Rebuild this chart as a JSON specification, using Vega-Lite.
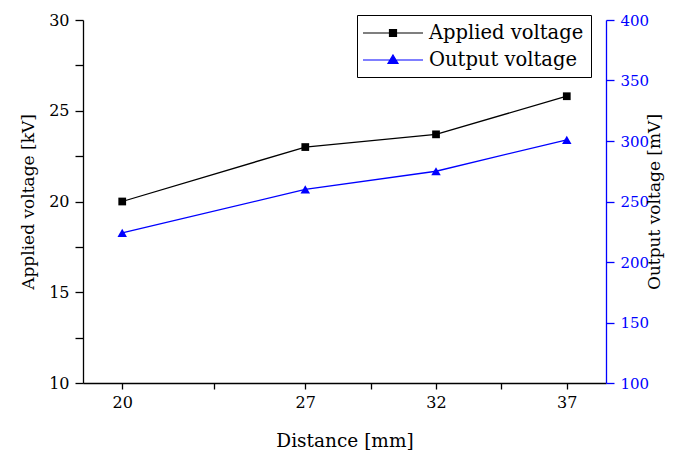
{
  "$schema": "https://vega.github.io/schema/vega-lite/v6.json",
  "autosize": {"type": "none"},
  "width": 523,
  "height": 363,
  "padding": {"left": 83, "top": 20, "right": 80, "bottom": 69},
  "background": "white",
  "config": {
    "view": {"stroke": null},
    "font": "DejaVu Serif",
    "axis": {
      "grid": false,
      "labelFont": "DejaVu Serif",
      "titleFont": "DejaVu Serif",
      "titleFontWeight": "normal",
      "labelColor": "#000",
      "titleColor": "#000",
      "domainColor": "#000",
      "tickColor": "#000",
      "domainWidth": 1.3,
      "tickWidth": 1.3,
      "labelOverlap": false,
      "labelFlush": false
    },
    "legend": {
      "title": null,
      "orient": "none",
      "legendX": 274,
      "legendY": -5,
      "strokeColor": "black",
      "fillColor": "white",
      "padding": 7,
      "labelFont": "DejaVu Serif",
      "labelFontSize": 19.5,
      "labelColor": "black",
      "labelLimit": 0,
      "symbolSize": 400,
      "symbolOffset": 18,
      "symbolOpacity": 1,
      "symbolStrokeWidth": 1.2,
      "rowPadding": 6,
      "labelOffset": 25
    }
  },
  "data": {
    "values": [
      {"distance": 20, "applied": 20.0, "output": 224},
      {"distance": 27, "applied": 23.0, "output": 260},
      {"distance": 32, "applied": 23.7, "output": 275},
      {"distance": 37, "applied": 25.8, "output": 301}
    ]
  },
  "encoding": {
    "x": {
      "field": "distance",
      "type": "quantitative",
      "scale": {"domain": [18.5, 38.5], "nice": false, "zero": false},
      "axis": {
        "title": "Distance [mm]",
        "titleFontSize": 18.5,
        "labelFontSize": 16,
        "values": [20, 23.5, 27, 29.5, 32, 34.5, 37],
        "labelExpr": "indexof([20,27,32,37], datum.value) >= 0 ? datum.label : ''",
        "tickSize": 6,
        "labelPadding": 5,
        "titlePadding": 21,
        "encode": {"ticks": {"y2": {"value": {"expr": "indexof([20,27,32,37], datum.value) >= 0 ? 6 : 3"}}}}
      }
    }
  },
  "layer": [
    {
      "layer": [
        {
          "mark": {"type": "line", "color": "black", "strokeWidth": 1.3},
          "encoding": {
            "y": {
              "field": "applied",
              "type": "quantitative",
              "scale": {"domain": [10, 30], "nice": false, "zero": false},
              "axis": {
                "orient": "left",
                "title": "Applied voltage [kV]",
                "titleFontSize": 17,
                "labelFontSize": 16,
                "values": [10, 12.5, 15, 17.5, 20, 22.5, 25, 27.5, 30],
                "labelExpr": "datum.value % 5 === 0 ? datum.label : ''",
                "tickSize": 8,
                "labelPadding": 6,
                "titlePadding": 11,
                "encode": {"ticks": {"x2": {"value": {"expr": "datum.value % 5 === 0 ? -8 : -4"}}}}
              }
            }
          }
        },
        {
          "mark": {"type": "point", "filled": true, "shape": "square", "color": "black", "size": 60, "opacity": 1},
          "encoding": {
            "y": {"field": "applied", "type": "quantitative"}
          }
        }
      ]
    },
    {
      "layer": [
        {
          "mark": {"type": "line", "color": "blue", "strokeWidth": 1.3},
          "encoding": {
            "y": {
              "field": "output",
              "type": "quantitative",
              "scale": {"domain": [100, 400], "nice": false, "zero": false},
              "axis": {
                "orient": "right",
                "title": "Output voltage [mV]",
                "titleFontSize": 17,
                "titleAngle": 270,
                "labelFontSize": 15,
                "labelColor": "blue",
                "tickColor": "blue",
                "domainColor": "blue",
                "values": [100, 125, 150, 175, 200, 225, 250, 275, 300, 325, 350, 375, 400],
                "labelExpr": "datum.value % 50 === 0 ? datum.label : ''",
                "tickSize": 8,
                "labelPadding": 6,
                "titlePadding": 15,
                "encode": {"ticks": {"x2": {"value": {"expr": "datum.value % 50 === 0 ? 8 : 4"}}}}
              }
            }
          }
        },
        {
          "mark": {"type": "point", "filled": true, "shape": "triangle-up", "color": "blue", "size": 90, "opacity": 1},
          "encoding": {
            "y": {"field": "output", "type": "quantitative"}
          }
        }
      ]
    },
    {
      "mark": {"type": "point", "opacity": 0, "size": 10},
      "encoding": {
        "y": {"field": "applied", "type": "quantitative", "axis": null},
        "fill": {
          "datum": "Applied voltage",
          "type": "nominal",
          "scale": {"domain": ["Applied voltage", "Output voltage"], "range": ["black", "blue"]}
        },
        "stroke": {
          "datum": "Applied voltage",
          "type": "nominal",
          "scale": {"domain": ["Applied voltage", "Output voltage"], "range": ["black", "blue"]}
        },
        "shape": {
          "datum": "Applied voltage",
          "type": "nominal",
          "scale": {
            "domain": ["Applied voltage", "Output voltage"],
            "range": ["M-3,0H3M-0.35,-0.35H0.35V0.35H-0.35Z", "M-3,0H3M0,-0.5L0.5,0.35H-0.5Z"]
          }
        }
      }
    }
  ],
  "resolve": {"scale": {"y": "independent"}}
}
